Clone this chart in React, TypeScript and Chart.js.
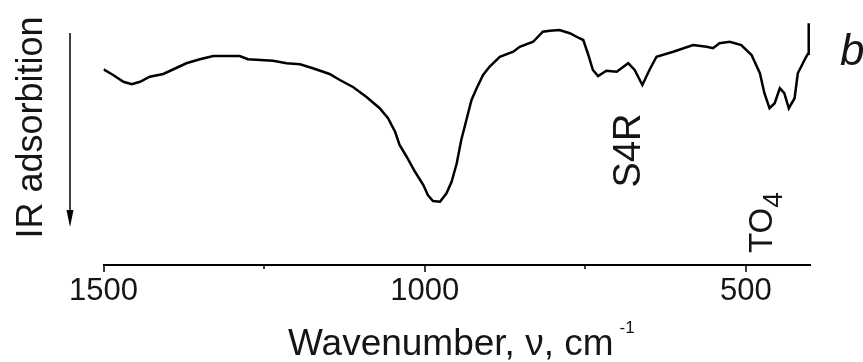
import React, { useEffect, useRef } from 'react';
import { Chart, registerables } from 'chart.js';

Chart.register(...registerables);

// Wavenumber (cm^-1) of each traced point of the spectrum
const wavenumbers = [
  1500, 1485, 1469, 1456, 1443, 1428, 1407, 1391, 1371, 1350, 1329, 1288, 1275, 1236, 1215,
  1194, 1174, 1148, 1132, 1111, 1090, 1070, 1057, 1046, 1039, 1028, 1015, 1002, 995, 987,
  976, 966, 958, 950, 943, 935, 927, 919, 909, 899, 883, 862, 852, 831, 816, 805, 790, 774,
  759, 753, 746, 738, 730, 717, 701, 683, 673, 661, 650, 639, 613, 582, 561, 551, 541, 525,
  507, 491, 478, 471, 463, 455, 447, 440, 433, 424, 419, 406, 403, 402,
];
// Transmission signal (arbitrary units, absorption points downward)
const signal = [
  78.3, 76.0, 73.3, 72.3, 73.3, 75.3, 76.4, 78.3, 80.7, 82.3, 83.6, 83.6, 82.3, 81.7, 80.7,
  80.3, 78.7, 76.4, 74.0, 71.1, 67.1, 62.7, 58.7, 53.3, 48.0, 43.3, 37.3, 32.0, 28.0, 25.6,
  25.3, 28.7, 33.3, 40.7, 50.0, 58.0, 66.0, 70.7, 76.0, 79.3, 83.3, 85.3, 87.3, 89.3, 93.3,
  93.7, 94.0, 92.7, 90.7, 90.0, 84.7, 78.0, 75.6, 77.7, 77.3, 80.7, 78.0, 72.0, 78.0, 83.3,
  85.3, 88.0, 87.3, 86.7, 88.7, 89.3, 88.0, 84.0, 76.7, 68.7, 62.7, 64.7, 70.7, 68.7, 62.7,
  66.7, 76.7, 83.3, 84.5, 96.7,
];

const majorTicks = [1500, 1000, 500];
const minorTicks = [1250, 750];
const xMin = 400;
const xMax = 1500;

const xTitle = 'Wavenumber, \u03bd, cm';
const xTitleSup = '-1';
const yTitle = 'IR adsorbition';
const bandS4R = 'S4R';
const bandS4RPos = 665;
const bandTO = 'TO';
const bandTOSub = '4';
const bandTOPos = 459;
const panelLetter = 'b';

const FONT = '"Liberation Sans", Arial, sans-serif';
const TEXT = '#151515';

const overlay = {
  id: 'overlay',
  afterDraw(chart: any) {
    const ctx = chart.ctx;
    const xs = chart.scales.x;
    const axisY = xs.top;
    ctx.save();
    // tick marks
    ctx.strokeStyle = '#000';
    ctx.lineWidth = 1.5;
    majorTicks.forEach((v) => {
      const px = Math.round(xs.getPixelForValue(v));
      ctx.beginPath();
      ctx.moveTo(px, axisY);
      ctx.lineTo(px, axisY + 7);
      ctx.stroke();
    });
    minorTicks.forEach((v) => {
      const px = Math.round(xs.getPixelForValue(v));
      ctx.beginPath();
      ctx.moveTo(px, axisY);
      ctx.lineTo(px, axisY + 4);
      ctx.stroke();
    });

    // x title with superscript
    ctx.fillStyle = TEXT;
    ctx.textBaseline = 'alphabetic';
    ctx.textAlign = 'left';
    ctx.font = `37px ${FONT}`;
    const tx = 288;
    ctx.fillText(xTitle, tx, 355);
    const w = ctx.measureText(xTitle).width;
    ctx.font = `17px ${FONT}`;
    ctx.fillText(xTitleSup, tx + w + 6, 333);

    // y title rotated
    ctx.save();
    ctx.translate(42, 127.5);
    ctx.rotate(-Math.PI / 2);
    ctx.textAlign = 'center';
    ctx.font = `36px ${FONT}`;
    ctx.fillText(yTitle, 0, 0);
    ctx.restore();

    // downward arrow
    ctx.strokeStyle = '#000';
    ctx.lineWidth = 1.5;
    ctx.beginPath();
    ctx.moveTo(70, 33);
    ctx.lineTo(70, 214);
    ctx.stroke();
    ctx.fillStyle = '#000';
    ctx.beginPath();
    ctx.moveTo(66.5, 210);
    ctx.lineTo(73.5, 210);
    ctx.lineTo(70, 227);
    ctx.closePath();
    ctx.fill();

    // band labels
    ctx.fillStyle = TEXT;
    ctx.save();
    ctx.translate(xs.getPixelForValue(bandS4RPos), 150.5);
    ctx.rotate(-Math.PI / 2);
    ctx.textAlign = 'center';
    ctx.font = `38px ${FONT}`;
    ctx.fillText(bandS4R, 0, 0);
    ctx.restore();

    ctx.save();
    ctx.translate(xs.getPixelForValue(bandTOPos), 253);
    ctx.rotate(-Math.PI / 2);
    ctx.textAlign = 'left';
    ctx.font = `33px ${FONT}`;
    ctx.fillText(bandTO, 0, 0);
    const tw = ctx.measureText(bandTO).width;
    ctx.font = `28px ${FONT}`;
    ctx.fillText(bandTOSub, tw, 10);
    ctx.restore();

    // panel letter
    ctx.font = `italic 44px ${FONT}`;
    ctx.textAlign = 'left';
    ctx.fillText(panelLetter, 840, 65);
    ctx.restore();
  },
};

export default function App() {
  const ref = useRef<HTMLCanvasElement | null>(null);
  useEffect(() => {
    if (!ref.current) return;
    const points = wavenumbers.map((x, i) => ({ x, y: signal[i] }));
    const chart = new Chart(ref.current, {
      type: 'line',
      data: {
        datasets: [
          {
            data: points,
            borderColor: '#000',
            borderWidth: 2.5,
            pointRadius: 0,
            tension: 0,
            fill: false,
          },
        ],
      },
      options: {
        animation: false,
        responsive: true,
        maintainAspectRatio: false,
        layout: { padding: { left: 103.5, right: 53, top: 15, bottom: 0 } },
        plugins: { legend: { display: false }, tooltip: { enabled: false } },
        scales: {
          x: {
            type: 'linear',
            reverse: true,
            min: xMin,
            max: xMax,
            afterBuildTicks: (scale: any) => {
              scale.ticks = [...majorTicks, ...minorTicks]
                .sort((a, b) => b - a)
                .map((value) => ({ value }));
            },
            afterFit: (scale: any) => {
              scale.height = 97;
            },
            grid: { display: true, drawOnChartArea: false, drawTicks: false, tickLength: 0 },
            border: { display: true, color: '#000', width: 2 },
            ticks: {
              autoSkip: false,
              maxRotation: 0,
              padding: 8,
              color: TEXT,
              font: { family: FONT, size: 31 },
              callback: (v: any) => (majorTicks.includes(Number(v)) ? String(v) : ''),
            },
          },
          y: {
            display: false,
            min: 0,
            max: 100,
          },
        },
      },
      plugins: [overlay],
    });
    return () => chart.destroy();
  }, []);
  return (
    <div style={{ position: 'absolute', left: 0, top: 0, width: 863, height: 362, background: '#fff' }}>
      <canvas ref={ref} />
    </div>
  );
}
